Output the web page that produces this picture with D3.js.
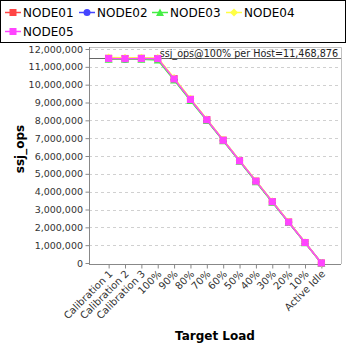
<!DOCTYPE html>
<html><head><meta charset="utf-8">
<script src="https://cdn.jsdelivr.net/npm/d3@7/dist/d3.min.js"></script>
<style>body{margin:0;background:#fff}svg{display:block}</style>
</head><body>
<svg id="c" width="348" height="348"></svg>
<script>
const categories = ["Calibration 1","Calibration 2","Calibration 3","100%","90%","80%","70%","60%","50%","40%","30%","20%","10%","Active Idle"];
const node01 = [11480000,11470000,11480000,11470000,10340000,9180000,8040000,6890000,5740000,4590000,3440000,2300000,1150000,0];
const node02 = [11450000,11420000,11460000,11460000,10310000,9160000,8020000,6880000,5730000,4580000,3440000,2290000,1150000,0];
const node03 = [11420000,11430000,11430000,11380000,10260000,9110000,7990000,6850000,5700000,4560000,3410000,2270000,1130000,0];
const node04 = [11520000,11510000,11510000,11490000,10370000,9210000,8060000,6910000,5760000,4610000,3460000,2310000,1160000,0];
const node05 = [11470000,11460000,11470000,11460000,10320000,9170000,8030000,6880000,5730000,4590000,3440000,2290000,1150000,0];
const seriesNames = ["NODE01","NODE02","NODE03","NODE04","NODE05"];
const seriesColors = ["#ff4444","#4444ff","#44ee44","#ffff44","#ff44ff"];
const seriesShapes = ["square","circle","triangle","diamond","square"];
const yTicks = [0,1000000,2000000,3000000,4000000,5000000,6000000,7000000,8000000,9000000,10000000,11000000,12000000];
const refValue = 11468876;
const refLabel = "ssj_ops@100% per Host=11,468,876";

const series = [node01,node02,node03,node04,node05];
const svg = d3.select("#c");
const L=89, R=341, T=47, B=264;

const x = d3.scalePoint().domain(categories).range([L,R]).padding(1.2);
const y = d3.scaleLinear().domain([0,12000000]).range([B-1,49]);

// grid
svg.append("g").selectAll("line").data(yTicks.slice(1)).join("line")
  .attr("x1",L).attr("x2",R).attr("y1",d=>Math.round(y(d))+0.5).attr("y2",d=>Math.round(y(d))+0.5)
  .attr("stroke","#d0d0d0").attr("stroke-dasharray","3,3").attr("stroke-width",1);

// border top/right
svg.append("path").attr("d",`M${L},${T+0.5}H${R+0.5}V${B}`).attr("fill","none").attr("stroke","#c0c0c0");

// axes
const fmt = d3.format(",");
const ya = d3.axisLeft(y).tickValues(yTicks).tickFormat(fmt).tickSize(4).tickSizeOuter(0);
const gy = svg.append("g").attr("transform",`translate(${L+0.5},0)`).call(ya);
gy.select(".domain").attr("stroke","#888").attr("d",`M0,${T}V${B}`);
gy.selectAll(".tick line").attr("stroke","#888");
gy.selectAll(".tick text").attr("font-family","DejaVu Sans").attr("font-size","9.5px").attr("fill","#333").attr("x",-6.5);

const xa = d3.axisBottom(x).tickSize(4).tickSizeOuter(0);
const gx = svg.append("g").attr("transform",`translate(0,${B+0.5})`).call(xa);
gx.select(".domain").attr("stroke","#888").attr("d",`M${L},0H${R}`);
gx.selectAll(".tick line").attr("stroke","#888");
gx.selectAll(".tick text").attr("font-family","DejaVu Sans").attr("font-size","10px").attr("fill","#333")
  .attr("text-anchor","end").attr("dy","0").attr("y",0)
  .attr("transform","translate(4,10) rotate(-45)");

// reference line
svg.append("line").attr("x1",L).attr("x2",R).attr("y1",Math.round(y(refValue))+0.5).attr("y2",Math.round(y(refValue))+0.5)
  .attr("stroke","#666").attr("stroke-width",1);
svg.append("text").attr("x",R-3).attr("y",T+10).attr("text-anchor","end")
  .attr("font-family","DejaVu Sans").attr("font-size","9.6px").attr("fill","#222").text(refLabel);

// series
const line = d3.line().x((d,i)=>x(categories[i])).y(d=>y(d));
function marker(g, shape, color){
  if(shape==="square") g.append("rect").attr("x",-3.5).attr("y",-3.5).attr("width",7).attr("height",7).attr("fill",color);
  else if(shape==="circle") g.append("circle").attr("r",3.5).attr("fill",color);
  else if(shape==="triangle") g.append("path").attr("d","M0,-4L4,3.5L-4,3.5Z").attr("fill",color);
  else g.append("path").attr("d","M0,-4L4,0L0,4L-4,0Z").attr("fill",color);
}
series.forEach((vals,si)=>{
  const g = svg.append("g");
  g.append("path").datum(vals).attr("d",line).attr("fill","none").attr("stroke",seriesColors[si]).attr("stroke-width",1.5);
  vals.forEach((v,i)=>{
    const m = g.append("g").attr("transform",`translate(${x(categories[i])},${y(v)})`);
    marker(m, seriesShapes[si], seriesColors[si]);
  });
});

// axis titles
svg.append("text").attr("transform","translate(24,149) rotate(-90)").attr("text-anchor","middle")
  .attr("font-family","DejaVu Sans").attr("font-weight","bold").attr("font-size","12px").attr("fill","#000").text("ssj_ops");
svg.append("text").attr("x",215).attr("y",340).attr("text-anchor","middle")
  .attr("font-family","DejaVu Sans").attr("font-weight","bold").attr("font-size","12px").attr("fill","#000").text("Target Load");

// legend
svg.append("rect").attr("x",0.5).attr("y",0.5).attr("width",345).attr("height",42).attr("fill","#fff").attr("stroke","#000");
const legPos = [[5,12.5],[79,12.5],[152,12.5],[226,12.5],[5,31.5]];
seriesNames.forEach((n,i)=>{
  const [lx,ly]=legPos[i];
  const g = svg.append("g").attr("transform",`translate(${lx},${ly})`);
  g.append("line").attr("x1",0).attr("x2",16).attr("stroke",seriesColors[i]).attr("stroke-width",1.5);
  const m = g.append("g").attr("transform","translate(8,0)");
  marker(m, seriesShapes[i], seriesColors[i]);
  g.append("text").attr("x",18).attr("y",4.5).attr("font-family","DejaVu Sans").attr("font-size","12px").attr("fill","#000").text(n);
});
</script>
</body></html>
